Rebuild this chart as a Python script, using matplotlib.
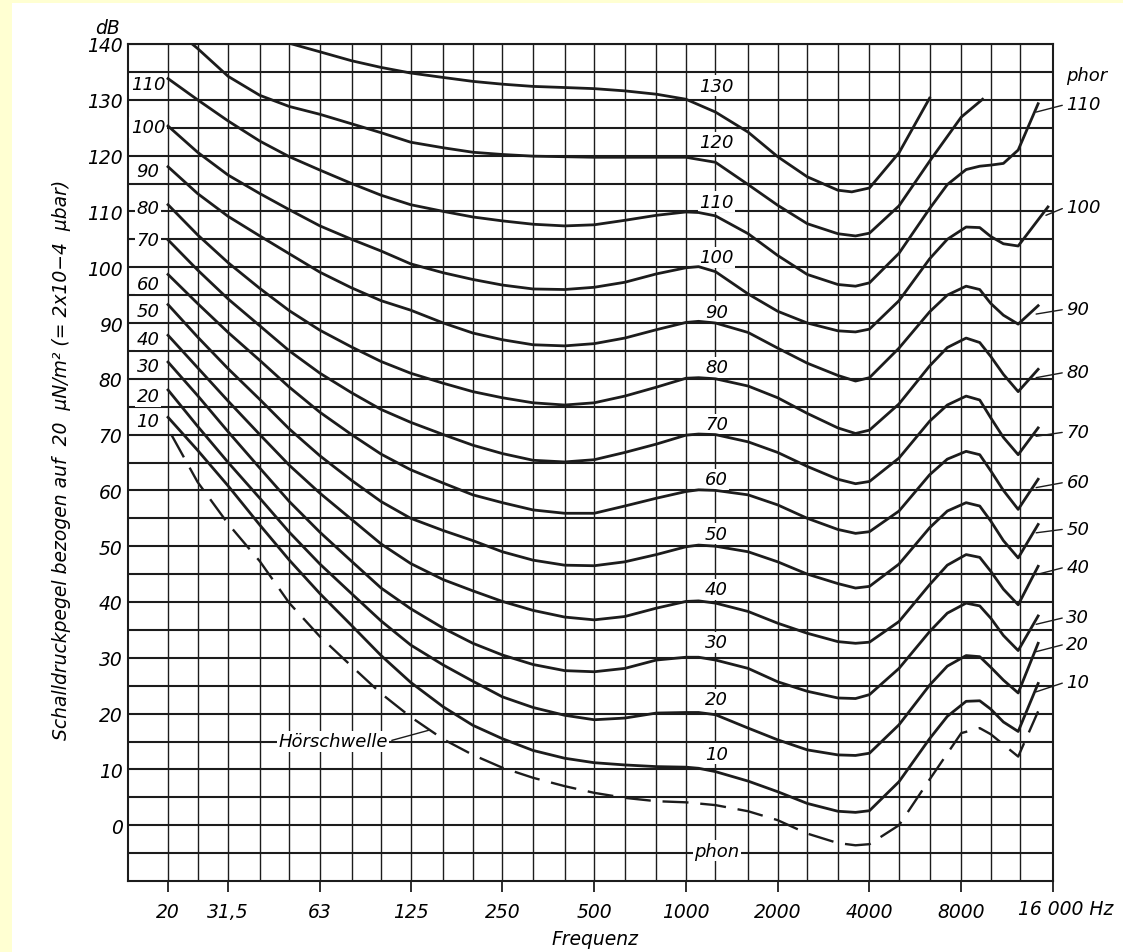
import matplotlib
matplotlib.use("Agg")
import matplotlib.pyplot as plt
from matplotlib.patches import Rectangle
from matplotlib.ticker import FixedLocator, NullFormatter

# third-octave grid and labelled ticks (Hz)
third_octaves = [20, 25, 31.5, 40, 50, 63, 80, 100, 125, 160, 200, 250, 315, 400, 500,
                 630, 800, 1000, 1250, 1600, 2000, 2500, 3150, 4000, 5000, 6300, 8000,
                 10000, 12500, 16000]
tick_freqs = [20, 31.5, 63, 125, 250, 500, 1000, 2000, 4000, 8000, 16000]
tick_labels = ["20", "31,5", "63", "125", "250", "500", "1000", "2000", "4000", "8000", ""]
db_ticks = list(range(0, 141, 10))

# common frequencies for the 10 ... 110 phon curves
freq = [20, 25, 31.5, 40, 50, 63, 80, 100, 125, 160, 200, 250, 315, 400, 500, 630, 800,
        1000, 1100, 1250, 1600, 2000, 2500, 3150, 3600, 4000, 5000, 6300, 7200, 8300, 9200,
        10000, 11000, 12300]

phon_10 = [73.1, 67.2, 60.8, 53.8, 47.5, 41.5, 35.8, 30.4, 25.6, 21.2, 17.9, 15.5, 13.4, 12.0, 11.2,
           10.8, 10.5, 10.4, 10.2, 9.6, 7.9, 6.0, 3.9, 2.5, 2.3, 2.6, 7.8, 15.5, 19.5, 22.2, 22.3,
           20.8, 18.5, 16.8]
phon_20 = [78.0, 71.5, 65.0, 58.6, 52.5, 46.8, 41.5, 36.6, 32.3, 28.7, 25.8, 23.0, 21.1, 19.7, 18.9,
           19.2, 20.1, 20.2, 20.2, 19.8, 17.4, 15.3, 13.5, 12.6, 12.5, 12.9, 18.0, 25.1, 28.5, 30.4, 30.2,
           28.3, 26.0, 23.7]
phon_30 = [83.0, 77.0, 70.5, 64.0, 58.0, 52.5, 47.3, 42.5, 38.8, 35.3, 32.6, 30.5, 28.8, 27.7, 27.5,
           28.1, 29.6, 30.1, 30.1, 29.6, 28.1, 25.7, 24.0, 22.8, 22.7, 23.4, 28.1, 34.7, 38.0, 39.8, 39.3,
           37.1, 34.0, 31.3]
phon_40 = [87.8, 82.0, 76.0, 70.0, 64.5, 59.5, 54.8, 50.4, 46.9, 44.0, 42.0, 40.1, 38.5, 37.3, 36.8,
           37.4, 38.9, 40.1, 40.2, 39.8, 38.3, 36.2, 34.4, 32.9, 32.6, 32.8, 36.5, 43.1, 46.6, 48.5, 48.0,
           45.5, 42.3, 39.5]
phon_50 = [93.3, 87.5, 81.8, 76.3, 71.0, 66.2, 61.8, 58.0, 55.0, 52.8, 51.0, 49.0, 47.5, 46.6, 46.5,
           47.2, 48.5, 49.9, 50.2, 50.0, 49.0, 47.2, 45.0, 43.3, 42.5, 42.8, 46.8, 53.3, 56.3, 57.8, 57.2,
           54.5, 51.0, 47.9]
phon_60 = [98.7, 93.5, 88.3, 83.3, 78.5, 74.0, 70.0, 66.5, 63.7, 61.3, 59.2, 57.8, 56.5, 55.9, 55.9,
           57.2, 58.6, 59.8, 60.1, 60.0, 59.2, 57.4, 55.0, 53.0, 52.3, 52.6, 56.3, 62.8, 65.6, 67.0, 66.4,
           63.5, 60.0, 56.6]
phon_70 = [104.9, 99.5, 94.3, 89.5, 85.0, 81.0, 77.5, 74.5, 72.2, 70.0, 68.1, 66.6, 65.4, 65.1, 65.5,
           66.8, 68.3, 69.9, 70.1, 70.0, 68.7, 66.8, 64.3, 62.0, 61.2, 61.6, 65.8, 72.4, 75.3, 76.9, 76.2,
           73.0, 69.5, 66.4]
phon_80 = [111.2, 105.8, 100.8, 96.2, 92.2, 88.7, 85.7, 83.1, 81.0, 79.2, 77.7, 76.6, 75.7, 75.3, 75.7,
           76.9, 78.5, 80.1, 80.2, 80.0, 78.7, 76.6, 73.8, 71.2, 70.2, 70.8, 75.5, 82.3, 85.6, 87.3, 86.5,
           84.0, 80.8, 77.7]
phon_90 = [118.0, 113.2, 109.1, 105.6, 102.4, 99.1, 96.3, 94.0, 92.3, 90.0, 88.2, 87.0, 86.1, 85.9, 86.3,
           87.3, 88.8, 90.1, 90.3, 90.0, 88.3, 85.5, 82.8, 80.6, 79.6, 80.2, 85.5, 92.0, 95.0, 96.6, 96.0,
           93.5, 91.4, 89.8]
phon_100 = [125.3, 120.6, 116.5, 113.2, 110.3, 107.4, 105.0, 102.9, 100.6, 99.0, 97.8, 96.8, 96.1, 96.0,
            96.4, 97.3, 98.8, 99.9, 100.1, 99.2, 95.2, 92.1, 90.0, 88.6, 88.4, 88.9, 94.0, 101.5, 105.0,
            107.2, 107.1, 105.5, 104.2, 103.8]
phon_110 = [133.8, 130.0, 126.2, 122.6, 119.8, 117.4, 115.0, 112.9, 111.2, 110.0, 109.0, 108.3, 107.7,
            107.4, 107.6, 108.4, 109.3, 109.9, 109.8, 109.2, 106.0, 102.1, 98.7, 96.9, 96.6, 97.2, 102.5,
            110.5, 114.8, 117.5, 118.1, 118.3, 118.6, 121.0]
# last point of each curve (10 ... 110 phon)
end_freq = [14300, 14300, 14300, 14300, 14300, 14300, 14300, 14300, 14300, 15400, 14300]
end_level = [25.4, 32.6, 37.5, 46.4, 53.9, 62.0, 71.2, 81.7, 93.1, 110.8, 129.3]

freq_120 = [24, 25, 31.5, 40, 50, 63, 80, 100, 125, 160, 200, 250, 315, 400, 500, 630, 800, 1000,
            1250, 1600, 2000, 2500, 3150, 3600, 4000, 5000, 6300, 8000, 9400]
phon_120 = [140.0, 139.2, 134.2, 130.8, 128.8, 127.4, 125.7, 124.1, 122.4, 121.4, 120.6, 120.2, 119.9,
            119.8, 119.7, 119.7, 119.7, 119.7, 118.8, 114.8, 111.1, 107.8, 106.0, 105.6, 106.1, 111.0,
            119.0, 126.9, 130.1]
freq_130 = [51, 63, 80, 100, 125, 160, 200, 250, 315, 400, 500, 630, 800, 1000, 1250, 1600, 2000,
            2500, 3150, 3500, 4000, 5000, 6300]
phon_130 = [140.0, 138.6, 137.0, 135.8, 134.8, 134.0, 133.3, 132.8, 132.4, 132.2, 132.0, 131.6, 131.0,
            130.1, 127.8, 124.2, 119.8, 116.2, 113.8, 113.5, 114.2, 120.5, 130.3]

# Hörschwelle (dashed)
freq_thr = [20.5, 25, 31.5, 40, 50, 63, 80, 100, 125, 160, 200, 250, 315, 400, 500, 630, 800, 1000,
            1250, 1600, 2000, 2500, 3150, 3600, 4000, 5000, 6300, 8000, 9200, 10000, 12300, 14300]
level_thr = [70.0, 61.5, 54.0, 47.3, 39.8, 33.8, 28.5, 23.6, 19.4, 15.4, 12.6, 10.3, 8.5, 7.0, 5.8,
             4.9, 4.3, 4.1, 3.6, 2.5, 0.9, -1.5, -3.2, -3.6, -3.4, 0.0, 8.2, 16.5, 17.4, 16.3, 12.3, 20.4]

# curve labels
left_labels = ["110", "100", "90", "80", "70", "60", "50", "40", "30", "20", "10"]
left_label_db = [132.8, 125.1, 117.2, 110.6, 104.8, 97.0, 92.2, 87.1, 82.3, 76.9, 72.4]
mid_labels = ["10", "20", "30", "40", "50", "60", "70", "80", "90", "100", "110", "120", "130"]
mid_label_db = [12.8, 22.6, 32.8, 42.3, 52.2, 62.0, 71.9, 82.1, 92.0, 101.8, 111.7, 122.4, 132.5]
right_labels = ["10", "20", "30", "40", "50", "60", "70", "80", "90", "100", "110"]
right_label_db = [25.7, 32.5, 37.3, 46.3, 53.1, 61.5, 70.5, 81.2, 92.5, 110.8, 129.2]

ink = "#1c1c1c"
paper_edge = "#ffffd2"

plt.rcParams["font.family"] = "DejaVu Sans"
plt.rcParams["font.style"] = "italic"
fs = 13.5

fig = plt.figure(figsize=(11.23, 9.53), dpi=100, facecolor="white")
fig.add_artist(Rectangle((0, 0), 12 / 1123, 1, transform=fig.transFigure, fc=paper_edge, ec="none"))
fig.add_artist(Rectangle((0, 1 - 4 / 953), 1, 4 / 953, transform=fig.transFigure, fc=paper_edge, ec="none"))

ax = fig.add_axes([128 / 1123, 71 / 953, 925 / 1123, 837 / 953])
ax.set_xscale("log")
ax.set_xlim(14.78, 16000)
ax.set_ylim(-10, 140)
ax.set_axisbelow(True)

# grid
ax.xaxis.set_major_locator(FixedLocator(tick_freqs))
ax.xaxis.set_minor_locator(FixedLocator([f for f in third_octaves if f not in tick_freqs]))
ax.set_xticklabels(tick_labels)
ax.xaxis.set_minor_formatter(NullFormatter())
ax.set_yticks(db_ticks)
ax.yaxis.set_minor_locator(FixedLocator([d for d in range(-5, 140, 5) if d % 10 != 0]))
ax.grid(True, which="both", axis="x", color=ink, lw=1.0)
ax.grid(True, which="both", axis="y", color=ink, lw=1.5)
ax.tick_params(axis="x", which="major", length=8, width=1.3, color=ink, pad=7, labelsize=fs)
ax.tick_params(axis="x", which="minor", length=0)
ax.tick_params(axis="y", which="both", length=0, pad=4, labelsize=fs)
for sp in ax.spines.values():
    sp.set_color(ink)
    sp.set_linewidth(1.5)

# equal loudness contours
curves = [phon_10, phon_20, phon_30, phon_40, phon_50, phon_60, phon_70, phon_80, phon_90,
          phon_100, phon_110]
for levels, ef, el in zip(curves, end_freq, end_level):
    ax.plot(freq + [ef], levels + [el], color=ink, lw=2.0, zorder=4, solid_joinstyle="round")
ax.plot(freq_120, phon_120, color=ink, lw=2.0, zorder=4, solid_joinstyle="round")
ax.plot(freq_130, phon_130, color=ink, lw=2.0, zorder=4, solid_joinstyle="round")
ax.plot(freq_thr, level_thr, color=ink, lw=1.7, ls=(0, (11, 5)), zorder=4)

box = dict(boxstyle="square,pad=0.08", fc="white", ec="none")
for txt, y in zip(left_labels, left_label_db):
    ax.text(17.2, y, txt, ha="center", va="center", fontsize=fs - 0.5, bbox=box, zorder=3)
for txt, y in zip(mid_labels, mid_label_db):
    ax.text(1260, y, txt, ha="center", va="center", fontsize=fs - 0.5, bbox=box, zorder=3)
ax.text(1265, -4.6, "phon", ha="center", va="center", fontsize=fs - 0.5, bbox=box, zorder=3)

for txt, y, ef, el in zip(right_labels, right_label_db, end_freq, end_level):
    ax.annotate(txt, xy=(ef * 0.985, el - 1.5), xytext=(17700, y), ha="left", va="center",
                fontsize=fs - 0.5, annotation_clip=False,
                arrowprops=dict(arrowstyle="-", color=ink, lw=1.0, relpos=(0, 0.5),
                                shrinkA=1, shrinkB=0))
ax.text(17700, 134.5, "phor", ha="left", va="center", fontsize=fs - 0.5, clip_on=False)

ax.annotate("Hörschwelle", xy=(143, 17.0), xytext=(69.5, 15.0), ha="center", va="center",
            fontsize=fs - 0.5, bbox=box,
            arrowprops=dict(arrowstyle="-", color=ink, lw=1.0, relpos=(1, 0.5), shrinkA=2, shrinkB=0))

fig.text(108 / 1123, 1 - 29 / 953, "dB", ha="center", va="center", fontsize=fs)
fig.text(1018 / 1123, 1 - 910 / 953, "16 000 Hz", ha="left", va="center", fontsize=fs)
fig.text(595 / 1123, 1 - 940 / 953, "Frequenz", ha="center", va="center", fontsize=fs)
fig.text(62 / 1123, 1 - 460 / 953,
         "Schalldruckpegel bezogen auf  20  µN/m² (= 2x10−4  µbar)",
         rotation=90, ha="center", va="center", fontsize=fs)

fig.savefig("out.png", dpi=100, facecolor="white")
